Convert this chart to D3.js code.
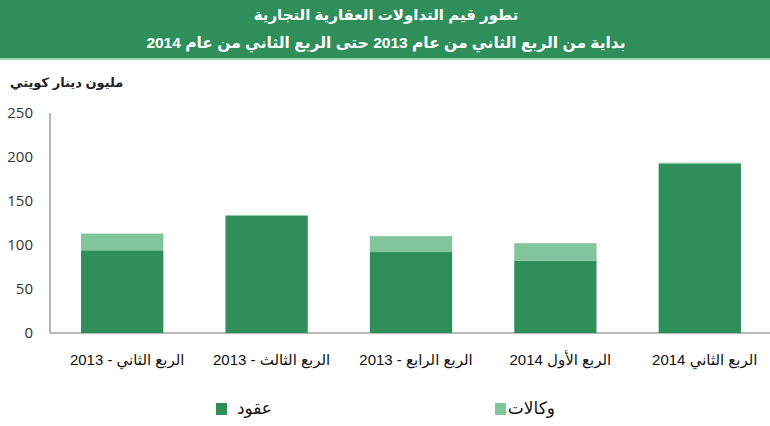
<html lang="ar">
<head>
	<meta charset="utf-8">
	<script src="https://cdn.jsdelivr.net/npm/d3@7/dist/d3.min.js"></script>
	<style>
		body { margin: 0; background: #fff; }
		text { font-family: "Liberation Sans", "DejaVu Sans", sans-serif; }
	</style>
</head>
<body>
	<script type="text/javascript">
		var w = 770;
		var h = 426;

		// data (million KWD)
		var quarters = ["الربع الثاني  - 2013", "الربع الثالث  - 2013", "الربع الرابع  - 2013", "الربع الأول 2014", "الربع الثاني 2014"];
		var contracts = [94, 133, 92, 82, 192];   // عقود
		var agencies = [19, 1, 18, 20, 1.5];      // وكالات
		var yTicks = [0, 50, 100, 150, 200, 250];
		var seriesNames = ["عقود", "وكالات"];
		var seriesColors = ["#2e8f5b", "#80c59c"];

		var svg = d3.select("body")
				.append("svg")
				.attr("width", w)
				.attr("height", h);

		// header band
		svg.append("rect").attr("x", 0).attr("y", 0).attr("width", w).attr("height", 58).attr("fill", "#2f8f5a");
		svg.append("rect").attr("x", 0).attr("y", 58).attr("width", w).attr("height", 2).attr("fill", "#9ed6b4");
		svg.append("text")
			.attr("x", 386).attr("y", 20)
			.attr("text-anchor", "middle")
			.attr("direction", "rtl")
			.attr("fill", "#fff")
			.style("font-size", "15px").style("font-weight", "bold")
			.text("تطور قيم التداولات العقارية التجارية");
		svg.append("text")
			.attr("x", 386).attr("y", 48)
			.attr("text-anchor", "middle")
			.attr("direction", "rtl")
			.attr("fill", "#fff")
			.style("font-size", "15.5px").style("font-weight", "bold")
			.text("بداية من الربع الثاني من عام  2013 حتى الربع الثاني من عام  2014");

		// unit label (rtl: anchor "end" sits on the left)
		svg.append("text")
			.attr("x", 10).attr("y", 87)
			.attr("text-anchor", "end")
			.attr("direction", "rtl")
			.attr("fill", "#222")
			.style("font-size", "13px")
			.style("font-weight", "bold")
			.text("مليون دينار كويتي");

		var x = d3.scaleBand()
				.domain(quarters)
				.range([50, 772])
				.paddingInner(0.43)
				.paddingOuter(0.215);

		var y = d3.scaleLinear()
				.domain([0, 250])
				.range([333, 113]);

		// axes lines
		svg.append("line").attr("x1", 50).attr("x2", 50).attr("y1", y(250)).attr("y2", y(0))
			.attr("stroke", "#a0a0a0").attr("stroke-width", 1.5);
		svg.append("line").attr("x1", 50).attr("x2", 770).attr("y1", y(0)).attr("y2", y(0))
			.attr("stroke", "#a0a0a0").attr("stroke-width", 1.5);

		// y tick labels
		svg.selectAll(".ytick")
			.data(yTicks)
			.enter()
			.append("text")
			.attr("class", "ytick")
			.attr("x", 33)
			.attr("y", function(d){ return y(d); })
			.attr("dy", "0.35em")
			.attr("text-anchor", "end")
			.attr("fill", "#333")
			.style("font-family", "'Open Sans', sans-serif")
			.style("font-size", "15px")
			.text(function(d){ return d; });

		// stacked bars
		var rows = quarters.map(function(q, i){ return {q: q, c: contracts[i], a: agencies[i]}; });

		svg.selectAll(".bar-c")
			.data(rows)
			.enter()
			.append("rect")
			.attr("class", "bar-c")
			.attr("x", function(d){ return x(d.q); })
			.attr("width", x.bandwidth())
			.attr("y", function(d){ return y(d.c); })
			.attr("height", function(d){ return y(0) - y(d.c); })
			.attr("fill", seriesColors[0]);

		svg.selectAll(".bar-a")
			.data(rows)
			.enter()
			.append("rect")
			.attr("class", "bar-a")
			.attr("x", function(d){ return x(d.q); })
			.attr("width", x.bandwidth())
			.attr("y", function(d){ return y(d.c + d.a); })
			.attr("height", function(d){ return y(d.c) - y(d.c + d.a); })
			.attr("fill", seriesColors[1]);

		// category labels
		svg.selectAll(".xlab")
			.data(quarters)
			.enter()
			.append("text")
			.attr("class", "xlab")
			.attr("x", function(d){ return x(d) + x.bandwidth() / 2 + 5; })
			.attr("y", 365)
			.attr("text-anchor", "middle")
			.attr("direction", "rtl")
			.attr("fill", "#111")
			.style("font-size", "15px")
			.text(function(d){ return d; });

		// legend
		var legendX = [216, 495];
		var legend = svg.selectAll(".leg")
			.data(seriesNames)
			.enter()
			.append("g")
			.attr("class", "leg")
			.attr("transform", function(d, i){ return "translate(" + legendX[i] + ",403)"; });
		legend.append("rect")
			.attr("width", 11).attr("height", 12)
			.attr("fill", function(d, i){ return seriesColors[i]; });
		legend.append("text")
			.attr("x", function(d, i){ return i == 0 ? 56 : 60; })
			.attr("y", 11)
			.attr("text-anchor", "end")
			.attr("direction", "ltr")
			.attr("fill", "#111")
			.style("font-size", "17px")
			.text(function(d){ return d; });
	</script>
</body>
</html>
